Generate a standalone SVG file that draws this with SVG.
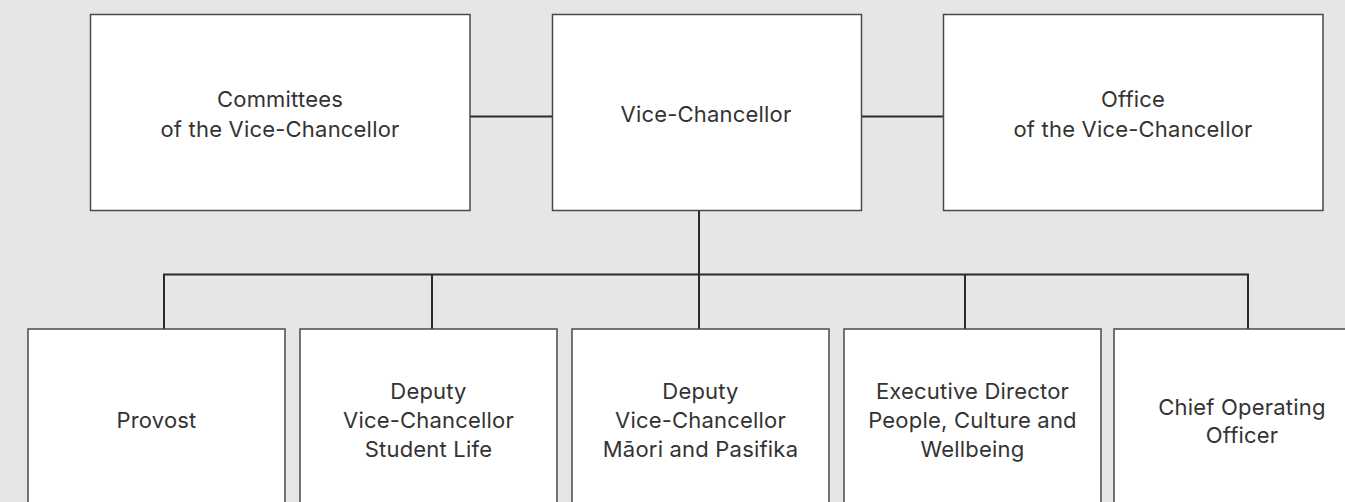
<svg xmlns="http://www.w3.org/2000/svg" width="1345" height="502" viewBox="0 0 1345 502">
<style>
.bg{fill:#e5e6e8}
.box{fill:#ffffff;stroke:#4a4a4a;stroke-width:1.5}
.ln{fill:none;stroke:#2b2b2b;stroke-width:2}
text{font-family:Inter,"Liberation Sans",Arial,sans-serif;font-size:22px;letter-spacing:0.2px;fill:#333333;text-anchor:middle}
</style>
<rect class="bg" x="0" y="0" width="1345" height="502"/>
<g id="connectors">
<line class="ln" x1="470" y1="116.5" x2="552" y2="116.5"/>
<line class="ln" x1="862" y1="116.5" x2="944" y2="116.5"/>
<line class="ln" x1="699" y1="210" x2="699" y2="329"/>
<polyline class="ln" points="164,329 164,274.5 1248,274.5 1248,329"/>
<line class="ln" x1="432" y1="274.5" x2="432" y2="329"/>
<line class="ln" x1="965" y1="274.5" x2="965" y2="329"/>
</g>
<g id="committees">
<rect class="box" x="90.5" y="14.5" width="379.5" height="196"/>
<text x="280" y="107">Committees</text>
<text x="280" y="137">of the Vice-Chancellor</text>
</g>
<g id="vice-chancellor">
<rect class="box" x="552.5" y="14.5" width="309" height="196"/>
<text x="706" y="122">Vice-Chancellor</text>
</g>
<g id="office">
<rect class="box" x="943.5" y="14.5" width="379.5" height="196"/>
<text x="1133" y="107">Office</text>
<text x="1133" y="137">of the Vice-Chancellor</text>
</g>
<g id="provost">
<rect class="box" x="28" y="329" width="257" height="190"/>
<text x="156.5" y="428">Provost</text>
</g>
<g id="dvc-student-life">
<rect class="box" x="300" y="329" width="257" height="190"/>
<text x="428.5" y="399">Deputy</text>
<text x="428.5" y="428">Vice-Chancellor</text>
<text x="428.5" y="457">Student Life</text>
</g>
<g id="dvc-maori-pasifika">
<rect class="box" x="572" y="329" width="257" height="190"/>
<text x="700.5" y="399">Deputy</text>
<text x="700.5" y="428">Vice-Chancellor</text>
<text x="700.5" y="457">Māori and Pasifika</text>
</g>
<g id="exec-director">
<rect class="box" x="844" y="329" width="257" height="190"/>
<text x="972.5" y="399">Executive Director</text>
<text x="972.5" y="428">People, Culture and</text>
<text x="972.5" y="457">Wellbeing</text>
</g>
<g id="coo">
<rect class="box" x="1114" y="329" width="257" height="190"/>
<text x="1242" y="415">Chief Operating</text>
<text x="1242" y="443">Officer</text>
</g>
</svg>
